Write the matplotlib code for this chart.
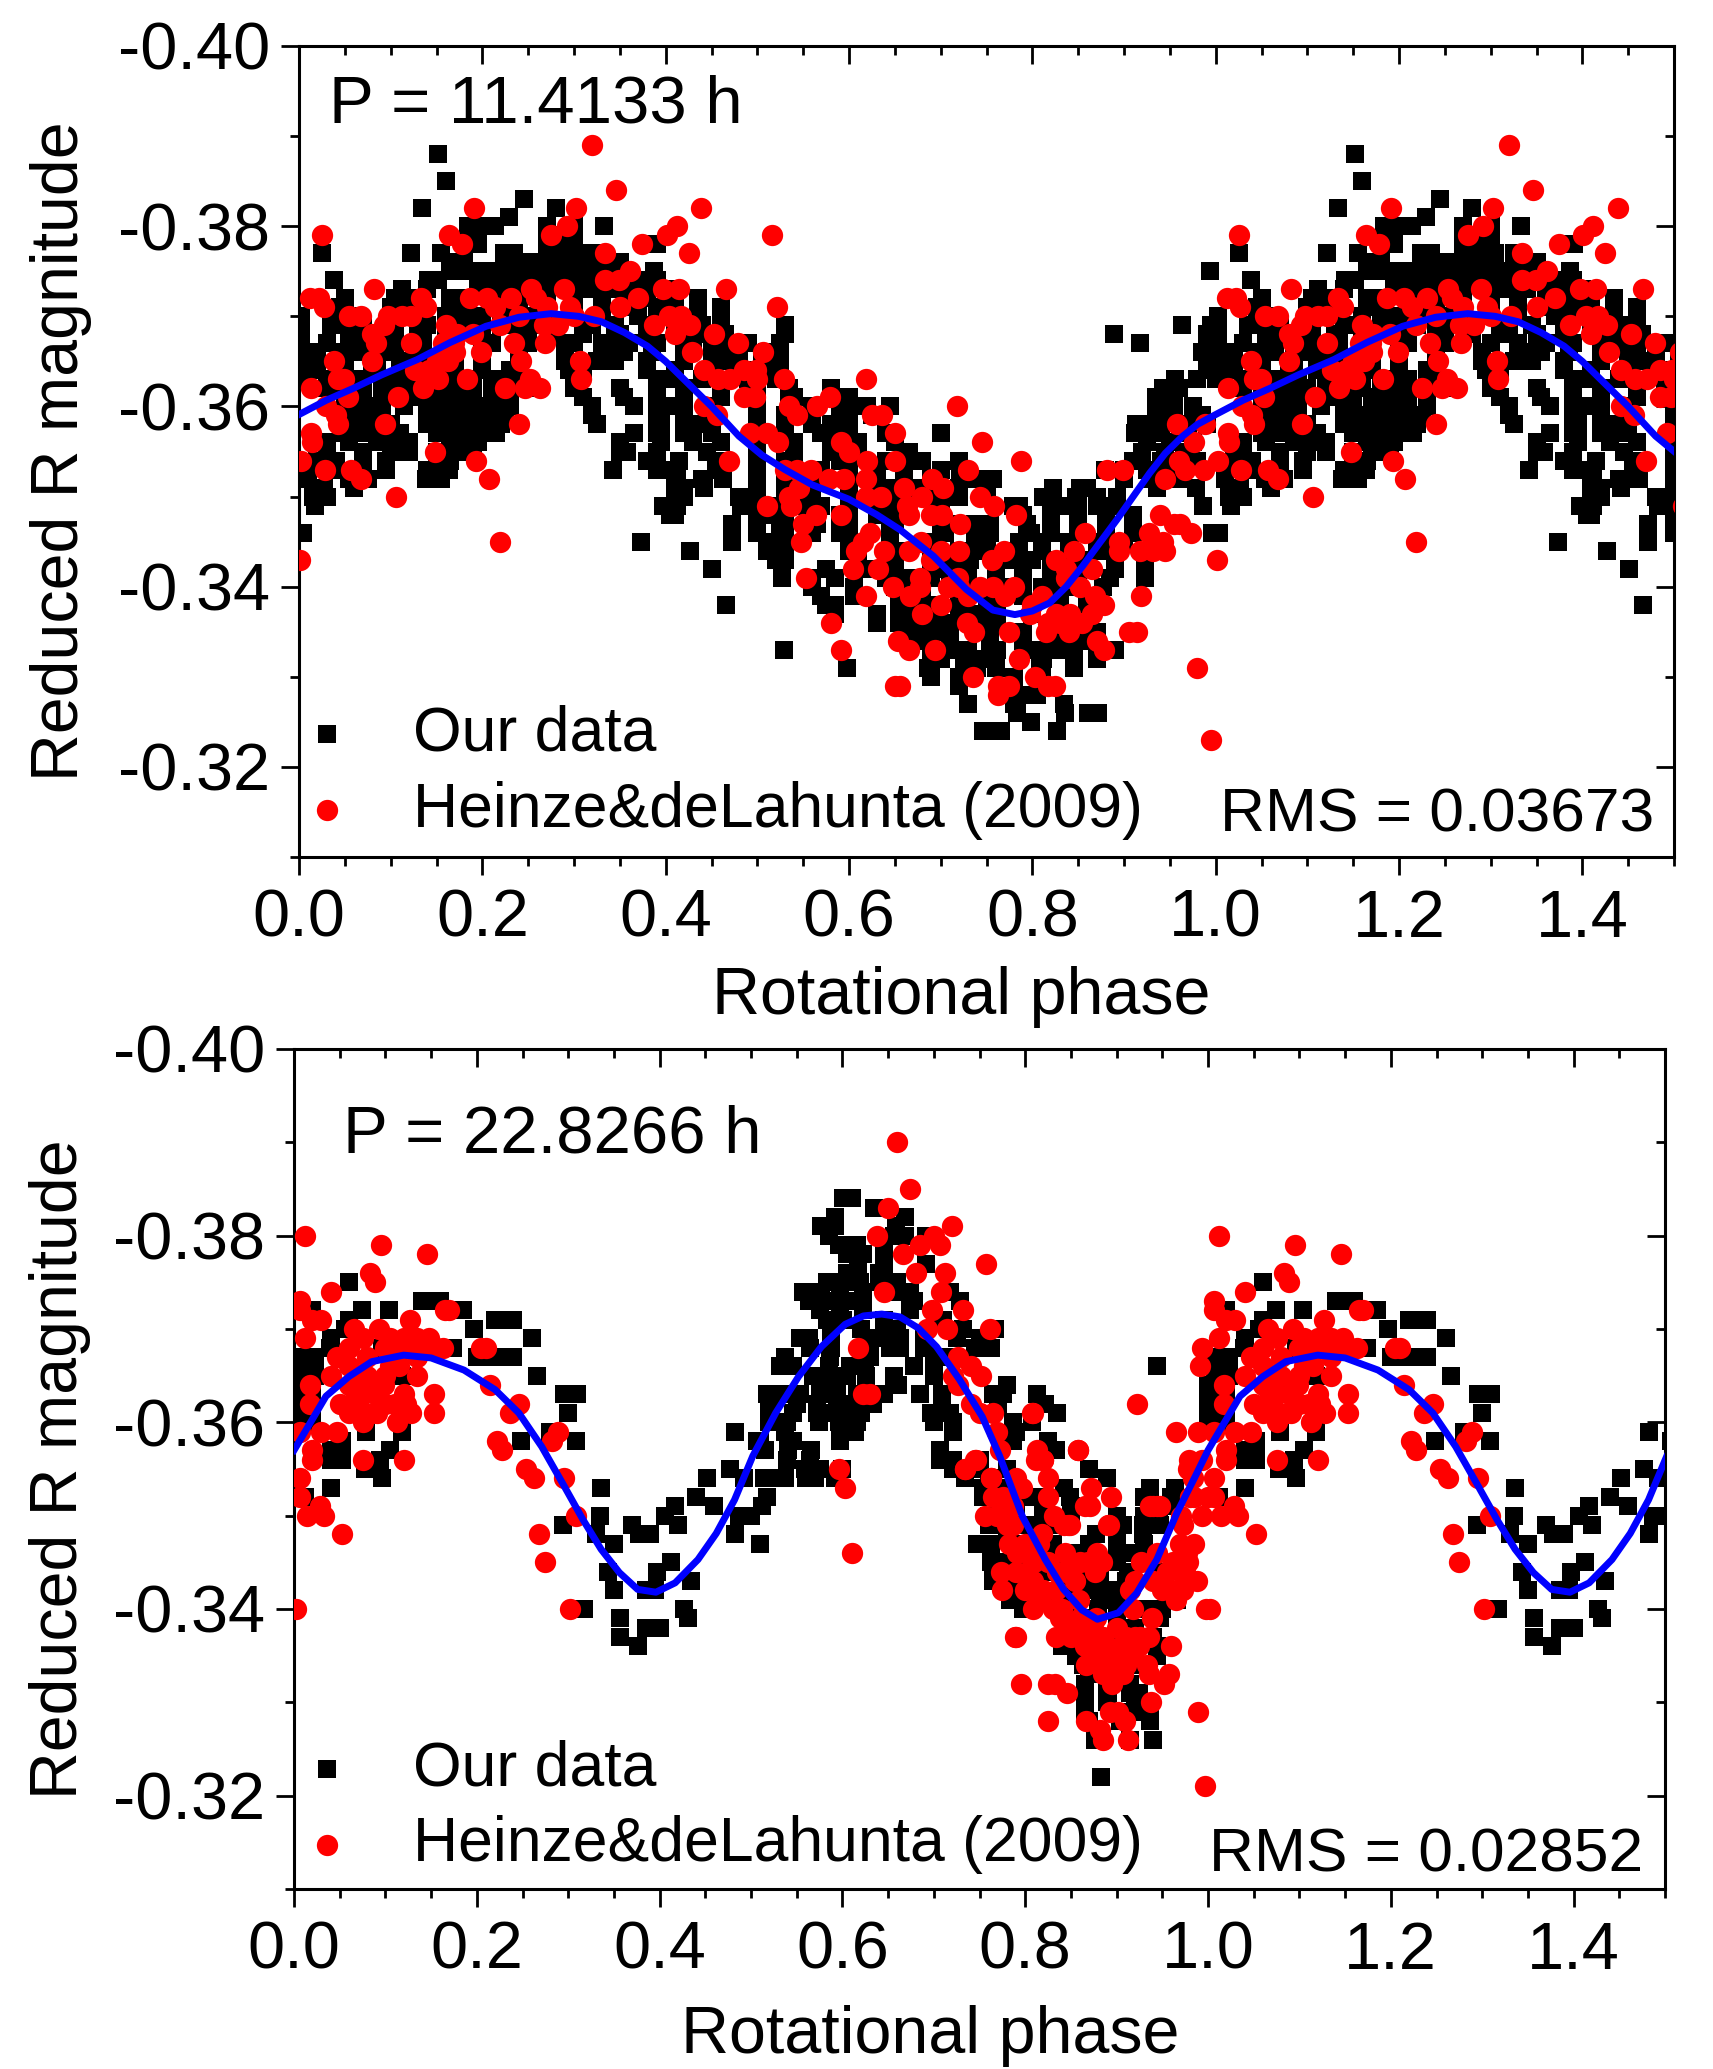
import numpy as np
import matplotlib
matplotlib.use('Agg')
import matplotlib.pyplot as plt
from matplotlib.ticker import MultipleLocator, FormatStrFormatter

plt.rcParams['font.family'] = ['Liberation Sans', 'DejaVu Sans']
plt.rcParams['axes.unicode_minus'] = False

# our photometry, one row per magnitude level: (magnitude, [phases])
ours_top = [
    (-.388, [.152]), (-.385, [.160]), (-.383, [.245]), (-.382, [.134, .28]), (-.381, [.229]),
    (-.380, [.184, .199, .214, .27, .30, .333]),
    (-.379, [.184, .195, .27, .285, .30]),
    (-.378, [.195, .28, .30, .385, .391]),
    (-.377, [.025, .122, .155, .224, .235, .27, .285, .305, .325]),
    (-.376, [.165, .18, .224, .24, .26, .28, .30, .33, .35]),
    (-.375, [.17, .19, .205, .225, .24, .255, .27, .285, .30, .315, .345, .387, .994]),
    (-.374, [.038, .141, .152, .195, .21, .225, .24, .26, .28, .30, .32, .35, .37, .39]),
    (-.373, [.112, .14, .195, .21, .225, .24, .27, .30, .32, .34, .36, .38, .40]),
    (-.372, [.05, .105, .12, .165, .18, .21, .24, .27, .30, .33, .36, .38, .40, .435]),
    (-.371, [.045, .10, .12, .165, .18, .23, .27, .30, .33, .36, .39, .41, .46]),
    (-.370, [.002, .045, .06, .11, .16, .18, .2, .24, .26, .30, .33, .37, .39, .41, .435, .46]),
    (-.369, [.002, .035, .055, .07, .105, .14, .16, .18, .22, .26, .28, .32, .345, .38, .41, .44, .46, .53, .963, .995]),
    (-.368, [.002, .055, .07, .105, .13, .16, .2, .24, .28, .31, .35, .38, .42, .44, .465, .53, .889, .99]),
    (-.367, [.03, .06, .1, .135, .17, .21, .25, .3, .33, .36, .39, .43, .46, .49, .525, .917, .99]),
    (-.366, [.0, .02, .045, .065, .085, .105, .13, .165, .2, .24, .29, .335, .355, .385, .42, .45, .48, .51, .525, .985]),
    (-.365, [.0, .02, .05, .085, .11, .14, .17, .2, .29, .325, .345, .38, .42, .455, .475, .505, .525, .99]),
    (-.364, [.0, .02, .05, .08, .11, .13, .17, .2, .23, .295, .31, .38, .41, .45, .49, .51, .99]),
    (-.363, [.0, .03, .06, .09, .13, .16, .19, .21, .24, .3, .39, .41, .44, .49, .52, .956, .98]),
    (-.362, [.03, .07, .1, .12, .15, .16, .18, .19, .21, .25, .30, .35, .39, .42, .46, .5, .535, .58, .943, .96]),
    (-.361, [.05, .07, .09, .12, .15, .17, .19, .23, .31, .355, .39, .42, .46, .5, .54, .58, .6, .935, .955]),
    (-.360, [.05, .075, .115, .14, .15, .17, .18, .2, .21, .23, .32, .365, .39, .41, .445, .5, .535, .56, .6, .62, .645, .935, .955, .975]),
    (-.359, [.06, .09, .14, .15, .16, .17, .18, .2, .21, .225, .32, .39, .42, .45, .5, .53, .56, .59, .625, .935, .955, .985]),
    (-.358, [.05, .08, .10, .14, .16, .17, .19, .2, .21, .22, .325, .395, .42, .44, .5, .53, .56, .58, .6, .913, .928, .965, .99]),
    (-.357, [.05, .07, .09, .11, .15, .17, .18, .2, .215, .365, .39, .42, .45, .5, .53, .57, .6, .64, .7, .912, .923, .94, .97]),
    (-.356, [.03, .055, .085, .105, .12, .165, .18, .195, .35, .395, .43, .46, .5, .54, .58, .61, .65, .925, .95, .975]),
    (-.355, [.03, .07, .1, .12, .15, .17, .19, .35, .358, .39, .445, .5, .54, .58, .61, .66, .665, .92, .945, .965]),
    (-.354, [.02, .04, .07, .095, .15, .165, .38, .415, .46, .5, .53, .59, .64, .68, .72, .91, .92, .94, .96, .98]),
    (-.353, [.01, .04, .07, .095, .14, .152, .164, .342, .39, .41, .455, .5, .54, .57, .6, .63, .66, .7, .721, .879, .90, .925, .94]),
    (-.352, [.01, .054, .075, .138, .155, .412, .44, .462, .5, .53, .56, .6, .63, .66, .69, .74, .757, .9, .93, .94, .96]),
    (-.351, [.027, .06, .41, .42, .442, .5, .53, .56, .6, .65, .676, .69, .72, .822, .852, .86, .936, .979]),
    (-.350, [.015, .03, .41, .42, .48, .5, .53, .55, .6, .63, .66, .676, .69, .72, .75, .812, .848, .87, .892]),
    (-.349, [.017, .397, .412, .482, .5, .52, .55, .57, .6, .64, .70, .779, .785, .83, .85, .87, .89, .986]),
    (-.348, [.405, .41, .51, .53, .56, .59, .63, .66, .7, .79, .82, .85, .88, .91]),
    (-.347, [.472, .5, .53, .565, .6, .65, .71, .737, .754, .794, .82, .85, .88, .91]),
    (-.346, [.004, .472, .5, .525, .56, .59, .645, .7, .705, .754, .799, .82, .85, .88, .91, .996]),
    (-.345, [.373, .472, .51, .53, .6, .69, .737, .785, .81, .84, .87, .9]),
    (-.344, [.427, .51, .525, .6, .645, .66, .72, .75, .78, .81, .84, .87, .89]),
    (-.343, [.52, .53, .61, .65, .69, .71, .732, .77, .8, .83, .86, .89]),
    (-.342, [.451, .527, .575, .62, .65, .7, .73, .76, .79, .82, .85, .89, .923]),
    (-.341, [.527, .56, .585, .64, .665, .69, .72, .76, .79, .82, .85, .885, .923]),
    (-.340, [.56, .605, .65, .68, .71, .73, .78, .81, .84, .877]),
    (-.339, [.57, .605, .66, .68, .72, .76, .79, .83, .86]),
    (-.338, [.466, .575, .585, .655, .667, .69, .72, .75, .8, .83]),
    (-.337, [.585, .63, .66, .721, .728, .746, .761, .8, .83, .86]),
    (-.336, [.63, .655, .67, .685, .703, .74, .761]),
    (-.335, [.665, .677, .692, .71, .754, .79, .84, .87]),
    (-.334, [.67, .71, .754, .79, .82, .848, .859]),
    (-.333, [.529, .69, .71, .73, .761, .801, .83, .89]),
    (-.332, [.7, .743, .76, .812, .845, .87]),
    (-.331, [.598, .686, .725, .74, .76, .808, .845]),
    (-.330, [.69, .72, .78, .81]),
    (-.329, [.72, .78, .81]),
    (-.328, [.792, .805]),
    (-.327, [.73, .78, .834]),
    (-.326, [.783, .836, .861, .872]),
    (-.325, [.799]),
    (-.324, [.746, .751, .766, .827]),
]

ours_bottom = [
    (-.384, [.601, .61]), (-.383, [.635]), (-.382, [.592, .668]), (-.381, [.577, .592, .659]),
    (-.380, [.585, .656, .668, .692]),
    (-.379, [.596, .616, .645]),
    (-.378, [.605, .623, .645]),
    (-.377, [.617, .645, .692]),
    (-.376, [.605, .64]),
    (-.375, [.06, .583, .601, .619, .64, .66]),
    (-.374, [.557, .577, .597, .623, .66, .674, .718]),
    (-.373, [.14, .16, .563, .583, .608, .623, .678, .729]),
    (-.372, [.02, .074, .104, .185, .575, .597, .623, .674]),
    (-.371, [.06, .22, .24, .583, .601, .645, .71]),
    (-.370, [.056, .197, .587, .62, .66, .732, .767]),
    (-.369, [.26, .04, .554, .563, .587, .628, .648, .663, .689, .725, .75]),
    (-.368, [.039, .096, .174, .565, .587, .63, .652, .663, .689, .745, .763]),
    (-.367, [.0, .02, .2, .22, .24, .537, .586, .63, .70, .72]),
    (-.366, [.008, .023, .532, .546, .585, .608, .625, .678, .70, .944]),
    (-.365, [.008, .023, .118, .266, .568, .586, .605, .626, .656, .70]),
    (-.364, [.0, .02, .661, .78]),
    (-.363, [.0, .02, .085, .295, .31, .517, .535, .554, .575, .594, .616, .645, .685, .709, .765, .776, .813]),
    (-.362, [.0, .02, .107, .52, .55, .572, .594, .608, .634, .709, .77, .822]),
    (-.361, [.0, .02, .30, .52, .546, .572, .59, .62, .697, .718, .835]),
    (-.360, [.0, .02, .52, .539, .574, .596, .616, .70, .721, .787, .807]),
    (-.359, [.079, .118, .28, .482, .537, .597, .614, .721, .79]),
    (-.358, [.052, .248, .308, .507, .51, .546, .597, .787, .825]),
    (-.357, [.041, .052, .105, .515, .541, .566, .707, .834]),
    (-.356, [.041, .052, .094, .539, .565, .707, .721, .75]),
    (-.355, [.078, .477, .559, .576, .60, .721, .746, .78, .87]),
    (-.354, [.096, .452, .492, .514, .518, .537, .56, .57, .592, .734, .76, .889]),
    (-.353, [.041, .336, .754, .76, .78, .842, .937, .964]),
    (-.352, [.012, .44, .517, .754, .77, .80, .82, .849, .93, .96]),
    (-.351, [.417, .46, .512, .77, .79, .82, .85, .94, .96]),
    (-.350, [.335, .406, .487, .50, .76, .78, .82, .85, .90, .93, .946]),
    (-.349, [.294, .37, .42, .76, .776, .80, .83, .907, .929, .947]),
    (-.348, [.33, .378, .39, .482, .78, .81, .878, .90, .929]),
    (-.347, [.35, .51, .747, .761, .80, .83, .87, .90, .93]),
    (-.346, [.763, .79, .81, .85, .91, .94]),
    (-.345, [.412, .763, .78, .80, .83, .86, .90, .93]),
    (-.344, [.344, .397, .765, .795, .82, .85, .882, .913, .947]),
    (-.343, [.434, .765, .783, .81, .84, .86, .882, .91]),
    (-.342, [.35, .385, .395, .79, .81, .84, .865, .882, .90]),
    (-.341, [.783, .80, .83, .85, .882, .90, .966]),
    (-.340, [.317, .427, .798, .85, .88, .90, .93, .95]),
    (-.339, [.357, .431, .85, .87, .90, .947]),
    (-.338, [.385, .40, .87, .90, .92]),
    (-.337, [.357, .88, .90, .94]),
    (-.336, [.376, .84, .86, .90, .92, .944]),
    (-.335, [.856, .88, .92, .944]),
    (-.334, [.863, .88, .92]),
    (-.333, [.87, .90]),
    (-.332, [.865, .89, .915]),
    (-.331, [.865, .891, .915, .925]),
    (-.330, [.865, .89, .92]),
    (-.329, [.865, .904, .918, .936]),
    (-.328, [.87, .904, .936]),
    (-.327, [.876]),
    (-.326, [.876, .915, .94]),
    (-.322, [.883]),
]

# Heinze & de Lahunta (2009) points as (phase, magnitude)
heinze_top = [
    (.32, -.389), (.346, -.384), (.191, -.382), (.302, -.382), (.439, -.382), (.412, -.380), (.401, -.379),
    (.292, -.380), (.275, -.379), (.025, -.379), (.164, -.379), (.178, -.378), (.516, -.379), (.374, -.378),
    (.334, -.377), (.425, -.377), (.361, -.375), (.349, -.374), (.334, -.374), (.082, -.373), (.012, -.372),
    (.022, -.372), (.027, -.371), (.187, -.372), (.205, -.372), (.231, -.372), (.253, -.373), (.258, -.372),
    (.289, -.373), (.296, -.371), (.133, -.372), (.139, -.371), (.397, -.373), (.415, -.373), (.466, -.373),
    (.054, -.370), (.068, -.370), (.097, -.370), (.112, -.370), (.122, -.370), (.093, -.369), (.214, -.371),
    (.219, -.369), (.16, -.369), (.322, -.370), (.404, -.370), (.417, -.370), (.387, -.369), (.427, -.369),
    (.521, -.371), (.267, -.369), (.282, -.369), (.453, -.368), (.172, -.368), (.084, -.367), (.122, -.367),
    (.234, -.367), (.268, -.367), (.157, -.367), (.169, -.367), (.479, -.367), (.429, -.366), (.506, -.366),
    (.199, -.366), (.162, -.366), (.038, -.365), (.08, -.365), (.242, -.365), (.307, -.365), (.162, -.365),
    (.442, -.364), (.485, -.364), (.498, -.364), (.127, -.364), (.142, -.364), (.042, -.363), (.049, -.363),
    (.152, -.363), (.183, -.363), (.252, -.363), (.308, -.363), (.457, -.363), (.47, -.363), (.5, -.363),
    (.529, -.363), (.013, -.362), (.135, -.362), (.225, -.362), (.247, -.362), (.263, -.362), (.618, -.363),
    (.108, -.361), (.053, -.361), (.579, -.361), (.485, -.361), (.497, -.361), (.029, -.360), (.442, -.360),
    (.535, -.360), (.565, -.360), (.718, -.360), (.456, -.359), (.543, -.359), (.625, -.359), (.636, -.359),
    (.04, -.359), (.094, -.358), (.042, -.358), (.24, -.358), (.013, -.357), (.492, -.357), (.51, -.357),
    (.65, -.357), (.014, -.356), (.522, -.356), (.591, -.356), (.745, -.356), (.148, -.355), (.002, -.354),
    (.193, -.354), (.469, -.354), (.65, -.354), (.788, -.354), (.028, -.353), (.057, -.353), (.73, -.353),
    (.068, -.352), (.691, -.352), (.106, -.350), (.207, -.352), (.219, -.345), (.001, -.343), (.51, -.349),
    (.535, -.350), (.537, -.349), (.564, -.348), (.55, -.347), (.548, -.345), (.553, -.341), (.53, -.353),
    (.543, -.353), (.558, -.353), (.578, -.352), (.594, -.352), (.618, -.352), (.545, -.351), (.618, -.350),
    (.635, -.350), (.591, -.348), (.623, -.346), (.615, -.345), (.608, -.344), (.638, -.344), (.604, -.342),
    (.632, -.342), (.648, -.340), (.618, -.339), (.58, -.336), (.591, -.333), (.653, -.334), (.65, -.329),
    (.703, -.351), (.743, -.350), (.758, -.349), (.663, -.349), (.665, -.348), (.69, -.348), (.702, -.348),
    (.721, -.347), (.782, -.348), (.881, -.353), (.899, -.353), (.945, -.352), (.958, -.358), (.976, -.356),
    (.988, -.358), (.96, -.354), (.966, -.353), (.987, -.353), (.939, -.348), (.954, -.347), (.961, -.347),
    (.973, -.346), (.927, -.346), (.943, -.345), (.932, -.344), (.917, -.344), (.945, -.344), (.894, -.345),
    (.895, -.344), (.857, -.346), (.845, -.344), (.826, -.343), (.837, -.342), (.865, -.342), (.837, -.341),
    (.852, -.340), (.868, -.339), (.878, -.338), (.811, -.339), (.918, -.339), (.678, -.345), (.665, -.344),
    (.769, -.344), (.756, -.343), (.689, -.343), (.677, -.341), (.677, -.340), (.666, -.339), (.719, -.341),
    (.708, -.340), (.743, -.340), (.757, -.340), (.77, -.339), (.73, -.339), (.797, -.337), (.826, -.337),
    (.841, -.337), (.865, -.337), (.854, -.336), (.83, -.336), (.817, -.336), (.729, -.336), (.736, -.335),
    (.775, -.335), (.815, -.335), (.905, -.335), (.914, -.335), (.87, -.334), (.878, -.333), (.665, -.333),
    (.694, -.333), (.785, -.332), (.98, -.331), (.735, -.330), (.803, -.330), (.817, -.329), (.825, -.329),
    (.774, -.329), (.763, -.329), (.762, -.328), (.656, -.329), (.995, -.323),
    (.08, -.368), (.15, -.365), (.17, -.366), (.19, -.368), (.24, -.37), (.27, -.371), (.3, -.37), (.35, -.371),
    (.37, -.372), (.41, -.368), (.6, -.355), (.62, -.354), (.66, -.351), (.68, -.35), (.7, -.344), (.72, -.344),
    (.68, -.337), (.7, -.338), (.72, -.34), (.78, -.34), (.8, -.338), (.84, -.335),
]

heinze_bottom = [
    (.012, -.380), (.095, -.379), (.146, -.378), (.083, -.376), (.089, -.375), (.041, -.374), (.007, -.373),
    (.007, -.372), (.03, -.371), (.02, -.371), (.012, -.369), (.17, -.372), (.165, -.372), (.127, -.371),
    (.066, -.370), (.093, -.370), (.148, -.369), (.06, -.368), (.075, -.369), (.105, -.369), (.12, -.369),
    (.135, -.369), (.205, -.368), (.21, -.368), (.047, -.367), (.163, -.368), (.11, -.368), (.135, -.367),
    (.105, -.366), (.041, -.365), (.135, -.365), (.08, -.365), (.017, -.364), (.099, -.364), (.214, -.364),
    (.153, -.363), (.12, -.363), (.068, -.363), (.246, -.362), (.236, -.361), (.017, -.362), (.05, -.362),
    (.07, -.362), (.123, -.362), (.153, -.361), (.128, -.361), (.091, -.361), (.06, -.361), (.075, -.360),
    (.113, -.360), (.007, -.359), (.03, -.359), (.047, -.359), (.289, -.359), (.282, -.358), (.222, -.358),
    (.228, -.357), (.02, -.357), (.02, -.356), (.075, -.356), (.12, -.356), (.007, -.354), (.254, -.355),
    (.263, -.354), (.295, -.354), (.007, -.352), (.028, -.351), (.014, -.350), (.033, -.350), (.309, -.350),
    (.053, -.348), (.268, -.348), (.275, -.345), (.302, -.340), (.002, -.340), (.596, -.355), (.603, -.353),
    (.61, -.346), (.66, -.390), (.674, -.385), (.650, -.383), (.72, -.381), (.70, -.380), (.685, -.379),
    (.707, -.379), (.638, -.380), (.666, -.378), (.757, -.377), (.68, -.376), (.712, -.376), (.708, -.374),
    (.645, -.374), (.698, -.372), (.732, -.372), (.693, -.370), (.714, -.370), (.761, -.370), (.617, -.368),
    (.727, -.367), (.741, -.366), (.752, -.365), (.721, -.365), (.727, -.364), (.623, -.363), (.630, -.363),
    (.741, -.362), (.75, -.361), (.765, -.361), (.769, -.359), (.808, -.361), (.772, -.357), (.813, -.357),
    (.746, -.356), (.734, -.355), (.82, -.356), (.763, -.354), (.858, -.357), (.812, -.356), (.819, -.356),
    (.745, -.356), (.734, -.355), (.763, -.354), (.796, -.353), (.825, -.354), (.825, -.352), (.872, -.353),
    (.894, -.352), (.865, -.351), (.871, -.351), (.776, -.352), (.756, -.350), (.769, -.350), (.787, -.351),
    (.831, -.350), (.849, -.349), (.842, -.349), (.891, -.349), (.818, -.348), (.787, -.349), (.782, -.347),
    (.80, -.347), (.94, -.351), (.947, -.351), (.844, -.346), (.879, -.346), (.802, -.346), (.791, -.346),
    (.86, -.345), (.884, -.345), (.869, -.345), (.774, -.344), (.845, -.344), (.802, -.344), (.876, -.344),
    (.809, -.343), (.775, -.342), (.82, -.342), (.834, -.342), (.859, -.341), (.816, -.341), (.809, -.340),
    (.918, -.340), (.838, -.339), (.86, -.339), (.878, -.339), (.939, -.339), (.845, -.338), (.856, -.338),
    (.874, -.338), (.834, -.337), (.789, -.337), (.885, -.337), (.926, -.337), (.935, -.337), (.906, -.336),
    (.865, -.336), (.959, -.336), (.918, -.335), (.904, -.335), (.933, -.334), (.867, -.334), (.896, -.334),
    (.885, -.333), (.907, -.333), (.935, -.333), (.957, -.333), (.952, -.332), (.795, -.332), (.825, -.332),
    (.833, -.332), (.846, -.331), (.938, -.330), (.893, -.329), (.902, -.329), (.989, -.329), (.825, -.328),
    (.867, -.328), (.909, -.328), (.882, -.327), (.885, -.326), (.912, -.326), (.997, -.321), (.927, -.345),
    (.944, -.346), (.969, -.347), (.978, -.355), (.993, -.356), (.984, -.354), (.98, -.352), (1.0, -.352),
    (.993, -.350), (.973, -.349), (.977, -.346), (.978, -.345), (.962, -.345), (.97, -.344), (.988, -.343),
    (.95, -.342), (.966, -.342), (.973, -.342), (.965, -.341), (.998, -.340), (.92, -.343), (.915, -.342),
    (.922, -.362), (.858, -.357), (.965, -.359), (.979, -.356), (.989, -.359), (.807, -.361), (.937, -.351),
    (.944, -.351), (.847, -.349), (.892, -.349), (.79, -.337), (.991, -.366), (.993, -.368),
    (.79, -.344), (.80, -.342), (.81, -.345), (.815, -.347), (.825, -.345), (.83, -.34), (.84, -.34), (.85, -.337),
    (.86, -.337), (.87, -.336), (.88, -.335), (.89, -.336), (.9, -.338), (.91, -.337), (.92, -.337), (.895, -.332),
    (.90, -.333), (.91, -.334), (.925, -.336), (.94, -.343), (.955, -.344), (.96, -.342), (.975, -.344),
    (.985, -.347), (.97, -.35), (.985, -.352), (.78, -.349), (.765, -.352), (.79, -.354), (.835, -.344),
    (.855, -.343), (.06, -.366), (.08, -.367), (.1, -.368), (.12, -.368), (.13, -.368), (.145, -.368),
    (.155, -.368), (.09, -.363), (.1, -.362), (.06, -.364), (.07, -.365), (.085, -.361), (.11, -.362),
    (.075, -.363), (.1, -.365), (.115, -.366),
]

# fitted curves, one period
fit_phase_top = [0, .03, .059, .09, .129, .165, .204, .24, .275, .305, .33, .355, .38, .40, .42, .45, .48, .505,
                 .53, .56, .6, .63, .656, .692, .728, .757, .781, .80, .819, .837, .855, .873, .892, .91, .928,
                 .945, .964, .98, 1.0]
fit_mag_top = [-.3591, -.3607, -.362, -.3635, -.3652, -.3671, -.3689, -.3699, -.3703, -.3700, -.3694, -.3682,
               -.3667, -.3650, -.363, -.36, -.3567, -.3546, -.353, -.3513, -.3497, -.348, -.3463, -.3434, -.3397,
               -.3374, -.3369, -.3373, -.3382, -.3400, -.3423, -.3448, -.3474, -.3500, -.3526, -.3548, -.3567,
               -.3580, -.3591]
fit_phase_bottom = [0, .035, .06, .085, .12, .15, .186, .22, .246, .271, .296, .316, .336, .356, .376, .396, .417,
                    .442, .462, .482, .502, .527, .552, .577, .603, .623, .643, .663, .683, .703, .728, .753, .772,
                    .797, .822, .842, .862, .879, .902, .922, .944, .966, .986, 1.0]
fit_mag_bottom = [-.3570, -.3628, -.3649, -.3665, -.3672, -.3669, -.3656, -.3635, -.361, -.3574, -.3531, -.3496,
                  -.3464, -.3439, -.3421, -.3418, -.3428, -.3453, -.3481, -.3517, -.3564, -.361, -.3649, -.3681,
                  -.3705, -.3714, -.3716, -.3713, -.3701, -.3681, -.3646, -.3606, -.3564, -.3499, -.3453, -.3421,
                  -.3399, -.3389, -.3396, -.3417, -.3453, -.3503, -.3542, -.3570]

period_labels = ['P = 11.4133 h', 'P = 22.8266 h']
rms_labels = ['RMS = 0.03673', 'RMS = 0.02852']


def rows_to_points(rows):
    phase = np.concatenate([np.array(p, dtype=float) for m, p in rows])
    mag = np.concatenate([np.full(len(p), m) for m, p in rows])
    return phase, mag


def pairs_to_points(pairs):
    arr = np.array(pairs)
    return arr[:, 0], arr[:, 1]


def fold(phase, mag):
    # phases are plotted over 1.5 cycles, so the first half repeats
    extra = phase <= 0.53
    return np.concatenate([phase, phase[extra] + 1]), np.concatenate([mag, mag[extra]])


def draw_panel(ax, ours, heinze, fit_phase, fit_mag, legend_anchor):
    x, y = fold(*ours)
    ax.scatter(x, y, marker='s', s=180, color='black', linewidths=0, label='Our data', zorder=2)
    x, y = fold(*heinze)
    ax.scatter(x, y, marker='o', s=235, color='#ff0000', linewidths=0, label='Heinze&deLahunta (2009)', zorder=3)
    x, y = fold(np.array(fit_phase), np.array(fit_mag))
    order = np.argsort(x)
    ax.plot(x[order], y[order], color='#0000ff', lw=5.0, zorder=4)

    ax.set_xlim(0, 1.5)
    ax.set_ylim(-0.31, -0.40)
    ax.xaxis.set_major_locator(MultipleLocator(0.2))
    ax.xaxis.set_minor_locator(MultipleLocator(0.05))
    ax.yaxis.set_major_locator(MultipleLocator(0.02))
    ax.yaxis.set_minor_locator(MultipleLocator(0.01))
    ax.xaxis.set_major_formatter(FormatStrFormatter('%.1f'))
    ax.yaxis.set_major_formatter(FormatStrFormatter('%.2f'))

    ax.tick_params(axis='both', which='major', length=13, width=2.0, labelsize=48)
    ax.tick_params(axis='both', which='minor', length=6.5, width=2.0)
    ax.tick_params(axis='x', which='major', pad=10)
    ax.tick_params(axis='y', which='major', pad=8)
    ax.tick_params(top=True, right=True, which='both')
    ax.tick_params(axis='x', which='both', top=True, direction='out')
    ax.tick_params(axis='y', which='both', right=True, direction='out')
    # top and right ticks point inwards
    for t in ax.xaxis.get_major_ticks() + ax.xaxis.get_minor_ticks():
        t.tick2line.set_marker(3)
    for t in ax.yaxis.get_major_ticks() + ax.yaxis.get_minor_ticks():
        t.tick2line.set_marker(0)
    for s in ax.spines.values():
        s.set_linewidth(2.2)

    ax.set_xlabel('Rotational phase', fontsize=47.8)
    ax.set_ylabel('Reduced R magnitude', fontsize=47.7)
    ax.xaxis.label.set_va('baseline')
    ax.yaxis.label.set_va('center')
    ax.legend(loc='lower left', bbox_to_anchor=legend_anchor, frameon=False, fontsize=45,
              scatterpoints=1, handlelength=0.4, handletextpad=1.18, labelspacing=0.27,
              borderpad=0.1, borderaxespad=0.14)


fig = plt.figure(figsize=(17.13, 20.69), dpi=100)
W, H = 1713, 2069
ax1 = fig.add_axes([299 / W, 1 - 857 / H, 1375 / W, 811 / H])
ax2 = fig.add_axes([294 / W, 1 - 1889 / H, 1371 / W, 840 / H])

draw_panel(ax1, rows_to_points(ours_top), pairs_to_points(heinze_top), fit_phase_top, fit_mag_top, (0.0, 0.003))
draw_panel(ax2, rows_to_points(ours_bottom), pairs_to_points(heinze_bottom), fit_phase_bottom, fit_mag_bottom,
           (0.004, 0.0))

ax1.xaxis.set_label_coords(0.482, -0.193)
ax1.yaxis.set_label_coords(-0.1734, 0.5)
ax2.xaxis.set_label_coords(0.464, -0.195)
ax2.yaxis.set_label_coords(-0.1704, 0.5)

ax1.text(0.033, -0.3915, period_labels[0], fontsize=48.3, va='baseline')
ax2.text(0.054, -0.3889, period_labels[1], fontsize=48.3, va='baseline')
ax1.text(1.478, -0.3128, rms_labels[0], fontsize=44.8, va='baseline', ha='right')
ax2.text(1.476, -0.3119, rms_labels[1], fontsize=44.8, va='baseline', ha='right')

fig.savefig('out.png', dpi=100)
